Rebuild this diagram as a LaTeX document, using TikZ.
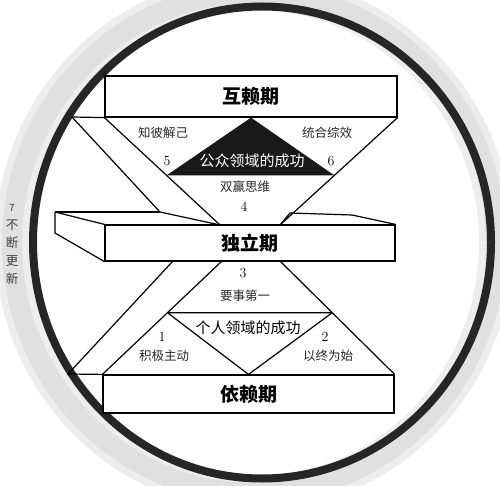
\documentclass[tikz,border=0pt]{standalone}
\usepackage{fontspec}
\newfontfamily\cjk{Noto Sans CJK SC}
\usetikzlibrary{calc}

\begin{document}
\begin{tikzpicture}[x=1pt, y=-1pt,
stage/.style = {draw, fill=white, rectangle, line width=1.2pt, inner sep=0pt, font=\cjk\bfseries\fontsize{19}{22}\selectfont},
habit/.style = {font=\cjk\fontsize{12.5}{14}\selectfont, text=black!85},
num/.style = {font=\fontsize{14}{16}\selectfont},
area/.style = {font=\cjk\fontsize{15}{17}\selectfont},
edge/.style = {line width=1.2pt, line join=round},
]

\useasboundingbox (0,0) rectangle (500,486);
\clip (0,0) rectangle (500,486);

\draw [gray!14, line width=34pt] (254,243) ellipse [x radius=242, y radius=250];
\draw [gray!24, line width=20pt] (254,243) ellipse [x radius=242, y radius=250];
\draw [black!85, line width=8pt] (262,242.5) ellipse [x radius=229, y radius=236];

\node [stage, minimum width=292pt, minimum height=41pt] (hulai) at (251,96.5) {互赖期};
\node [stage, minimum width=290pt, minimum height=36pt] (duli) at (250,243) {独立期};
\node [stage, minimum width=291pt, minimum height=38pt] (yilai) at (248.5,394) {依赖期};

\coordinate (hbl) at (72,117);
\coordinate (hbc) at (160,212);
\coordinate (tl) at (220,225);
\coordinate (tr) at (280,225);
\coordinate (sbl) at (55,212);
\coordinate (sfl) at (55,233);
\coordinate (sbr1) at (290,213);
\coordinate (sbr2) at (352,215);
\coordinate (bo) at (173,261);
\coordinate (bl) at (222,261);
\coordinate (br) at (280,261);
\coordinate (lbl) at (68,374);

\coordinate (pl) at ($(hulai.south west)!0.538!(tl)$);
\coordinate (pr) at ($(hulai.south east)!0.538!(tr)$);
\coordinate (ql) at ($(bl)!0.456!(yilai.north west)$);
\coordinate (qr) at ($(br)!0.456!(yilai.north east)$);

\draw [edge] (hbl) -- (hulai.south west);
\draw [edge] (hbl) -- (hbc) -- (tl);
\draw [edge] (hulai.south west) -- (tl);
\draw [edge] (hulai.south east) -- (tr) -- (sbr1) -- (sbr2) -- (duli.north east);
\draw [edge] (sbl) -- (hbc);
\draw [edge] (sbl) -- (duli.north west);
\draw [edge] (sbl) -- (sfl) -- (duli.south west);
\fill [black!90] (hulai.south) -- (pl) -- (pr) -- cycle;

\draw [edge] (bo) -- (lbl) -- (yilai.north west);
\draw [edge] (bl) -- (yilai.north west);
\draw [edge] (br) -- (yilai.north east);
\draw [edge] (ql) -- (qr) -- (yilai.north) -- cycle;

\node [habit] (zhibi) at (163,133) {知彼解己};
\node [habit] (tonghe) at (327,133) {统合综效};
\node [num] (n5) at (167,161) {5};
\node [num] (n6) at (331,161) {6};
\node [area, text=white] (gongzhong) at (252,161) {公众领域的成功};
\node [habit] (shuangying) at (245,187) {双赢思维};
\node [num] (n4) at (244,207) {4};

\node [num] (n3) at (243,273) {3};
\node [habit] (yaoshi) at (245,296) {要事第一};
\node [area] (geren) at (248,328) {个人领域的成功};
\node [num] (n1) at (162,337) {1};
\node [habit] (jiji) at (164,356) {积极主动};
\node [num] (n2) at (325,337) {2};
\node [habit] (yizhong) at (328,356) {以终为始};

\node [font=\cjk\fontsize{12.5}{18}\selectfont, text=black!75, align=center, inner sep=0pt] (gengxin) at (12,244) {{\fontsize{10}{18}\selectfont 7}\\不\\断\\更\\新};

\end{tikzpicture}
\end{document}
